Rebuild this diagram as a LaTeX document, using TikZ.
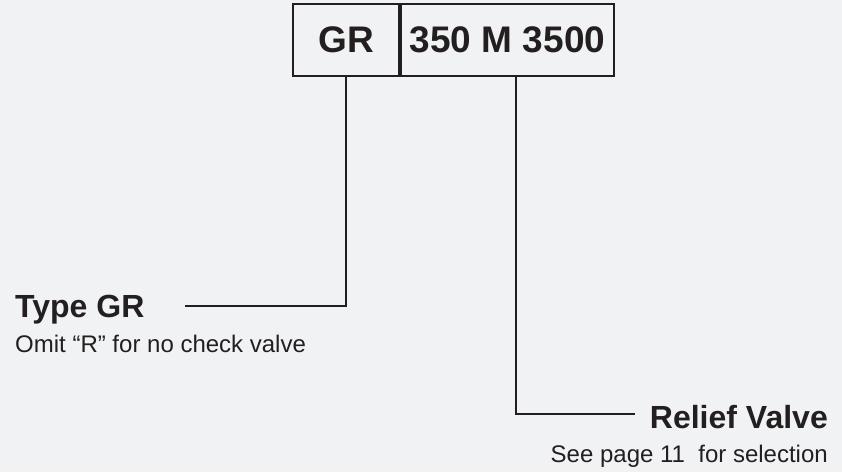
\documentclass[tikz,border=0pt]{standalone}
\usepackage{fontspec}
\setmainfont{Liberation Sans}
\usetikzlibrary{calc}
\definecolor{bgcol}{HTML}{F1F2F4}
\definecolor{inkcol}{HTML}{231F20}
\tikzset{
    codebox/.style={draw=inkcol,line width=2pt,minimum height=72,inner sep=0pt,font=\fontsize{37}{42}\selectfont\bfseries,text=inkcol},
    title/.style={inner sep=0pt,font=\fontsize{32}{36}\selectfont\bfseries,text=inkcol},
    note/.style={inner sep=0pt,font=\fontsize{24}{27}\selectfont,text=inkcol},
    lead/.style={draw=inkcol,line width=1.6pt}
}
\begin{document}
\begin{tikzpicture}[x=1pt,y=1pt]
\fill[bgcol] (0,0) rectangle (842,-472);
\useasboundingbox (0,0) rectangle (842,-472);

%%% BOXES %%%
\node[codebox,minimum width=106] (gr) at (346,-40) {GR};
\node[codebox,minimum width=213,anchor=west] (code) at (gr.east) {350 M 3500};

%%% LABELS %%%
\node[title,anchor=base west] (type) at (15,-317) {Type GR};
\node[note,anchor=base west] (omit) at (15,-352) {Omit “R” for no check valve};
\node[title,anchor=base east] (relief) at (828,-428) {Relief Valve};
\node[note,anchor=base east] (see) at (828,-462) {See page 11\ \ for selection};

%%% COORDINATES %%%
\coordinate (a) at (gr.south); % left lead
\coordinate (aend) at (185,-306);
\coordinate (b) at ($(code.south west)+(116,0)$); % right lead
\coordinate (bend) at (635,-414);

%%% LEADS %%%
\draw[lead] (a) |- (aend);
\draw[lead] (b) |- (bend);
\end{tikzpicture}
\end{document}
